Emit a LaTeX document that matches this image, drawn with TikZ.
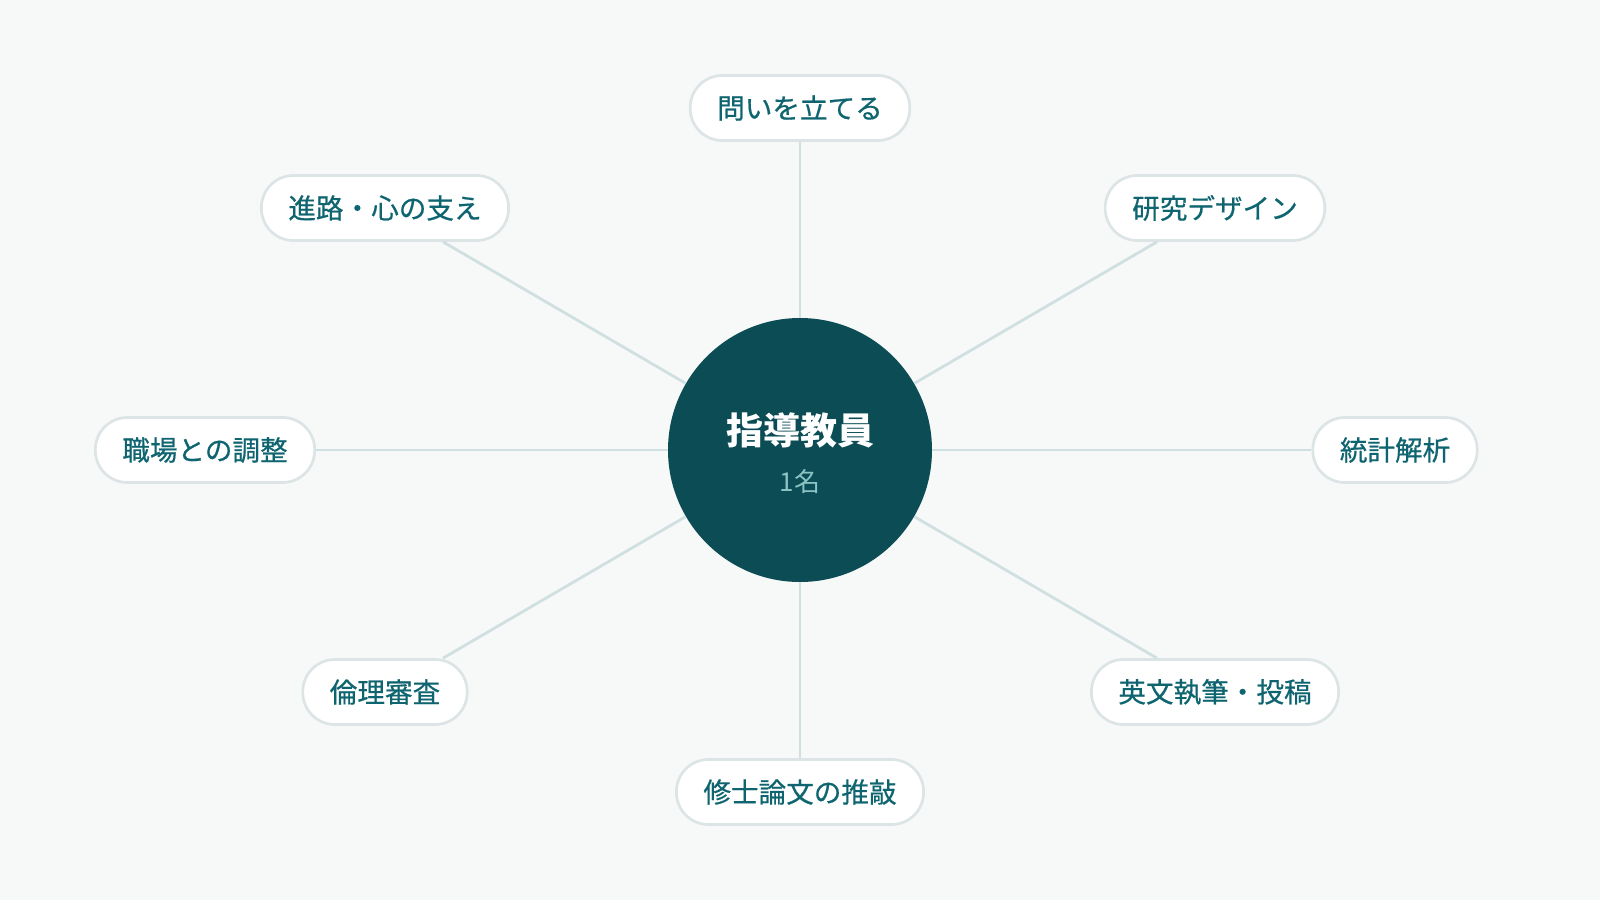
\documentclass[tikz,border=0pt]{standalone}
\usepackage{fontspec}
\setmainfont{Noto Sans CJK JP}
\newfontfamily\pillfont[FakeBold=0.6]{Noto Sans CJK JP}

\definecolor{bgcol}{HTML}{F7F9F9}
\definecolor{hubcol}{HTML}{0B4C55}
\definecolor{subcol}{HTML}{8CC4C4}
\definecolor{pilltext}{HTML}{0E6570}
\definecolor{pillline}{HTML}{DDE4E6}
\definecolor{spokecol}{HTML}{D0E0E0}

\tikzset{
  pill/.style={draw=pillline, line width=1.35pt, fill=white, rounded corners=16pt,
    minimum height=32.5pt, inner xsep=13.5pt, text=pilltext,
    font=\pillfont\fontsize{13.8}{16}\selectfont},
  spoke/.style={draw=spokecol, line width=1.4pt}
}

\begin{document}
\begin{tikzpicture}[x=0.5pt, y=-0.5pt]
            \fill[bgcol] (0, 0) rectangle (1600, 900);
            \node[circle, fill=hubcol, minimum size=132pt, inner sep=0pt] (hub) at (800, 450) {};
            \node[text=white, font=\fontsize{18.5}{22}\selectfont\bfseries] (title) at (800, 430) {指導教員};
            \node[text=subcol, font=\fontsize{13}{16}\selectfont] (count) at (800, 482) {1名};
            \node[pill] (question) at (800, 108) {問いを立てる};
            \node[pill] (design) at (1215, 208) {研究デザイン};
            \node[pill] (stats) at (1395, 450) {統計解析};
            \node[pill] (writing) at (1215, 692) {英文執筆・投稿};
            \node[pill] (thesis) at (800, 792) {修士論文の推敲};
            \node[pill] (ethics) at (385, 692) {倫理審査};
            \node[pill] (work) at (205, 450) {職場との調整};
            \node[pill] (career) at (385, 208) {進路・心の支え};
            \draw[spoke] (hub) -- (question);
            \draw[spoke] (hub) -- (design);
            \draw[spoke] (hub) -- (stats);
            \draw[spoke] (hub) -- (writing);
            \draw[spoke] (hub) -- (thesis);
            \draw[spoke] (hub) -- (ethics);
            \draw[spoke] (hub) -- (work);
            \draw[spoke] (hub) -- (career);
        \end{tikzpicture}
\end{document}
